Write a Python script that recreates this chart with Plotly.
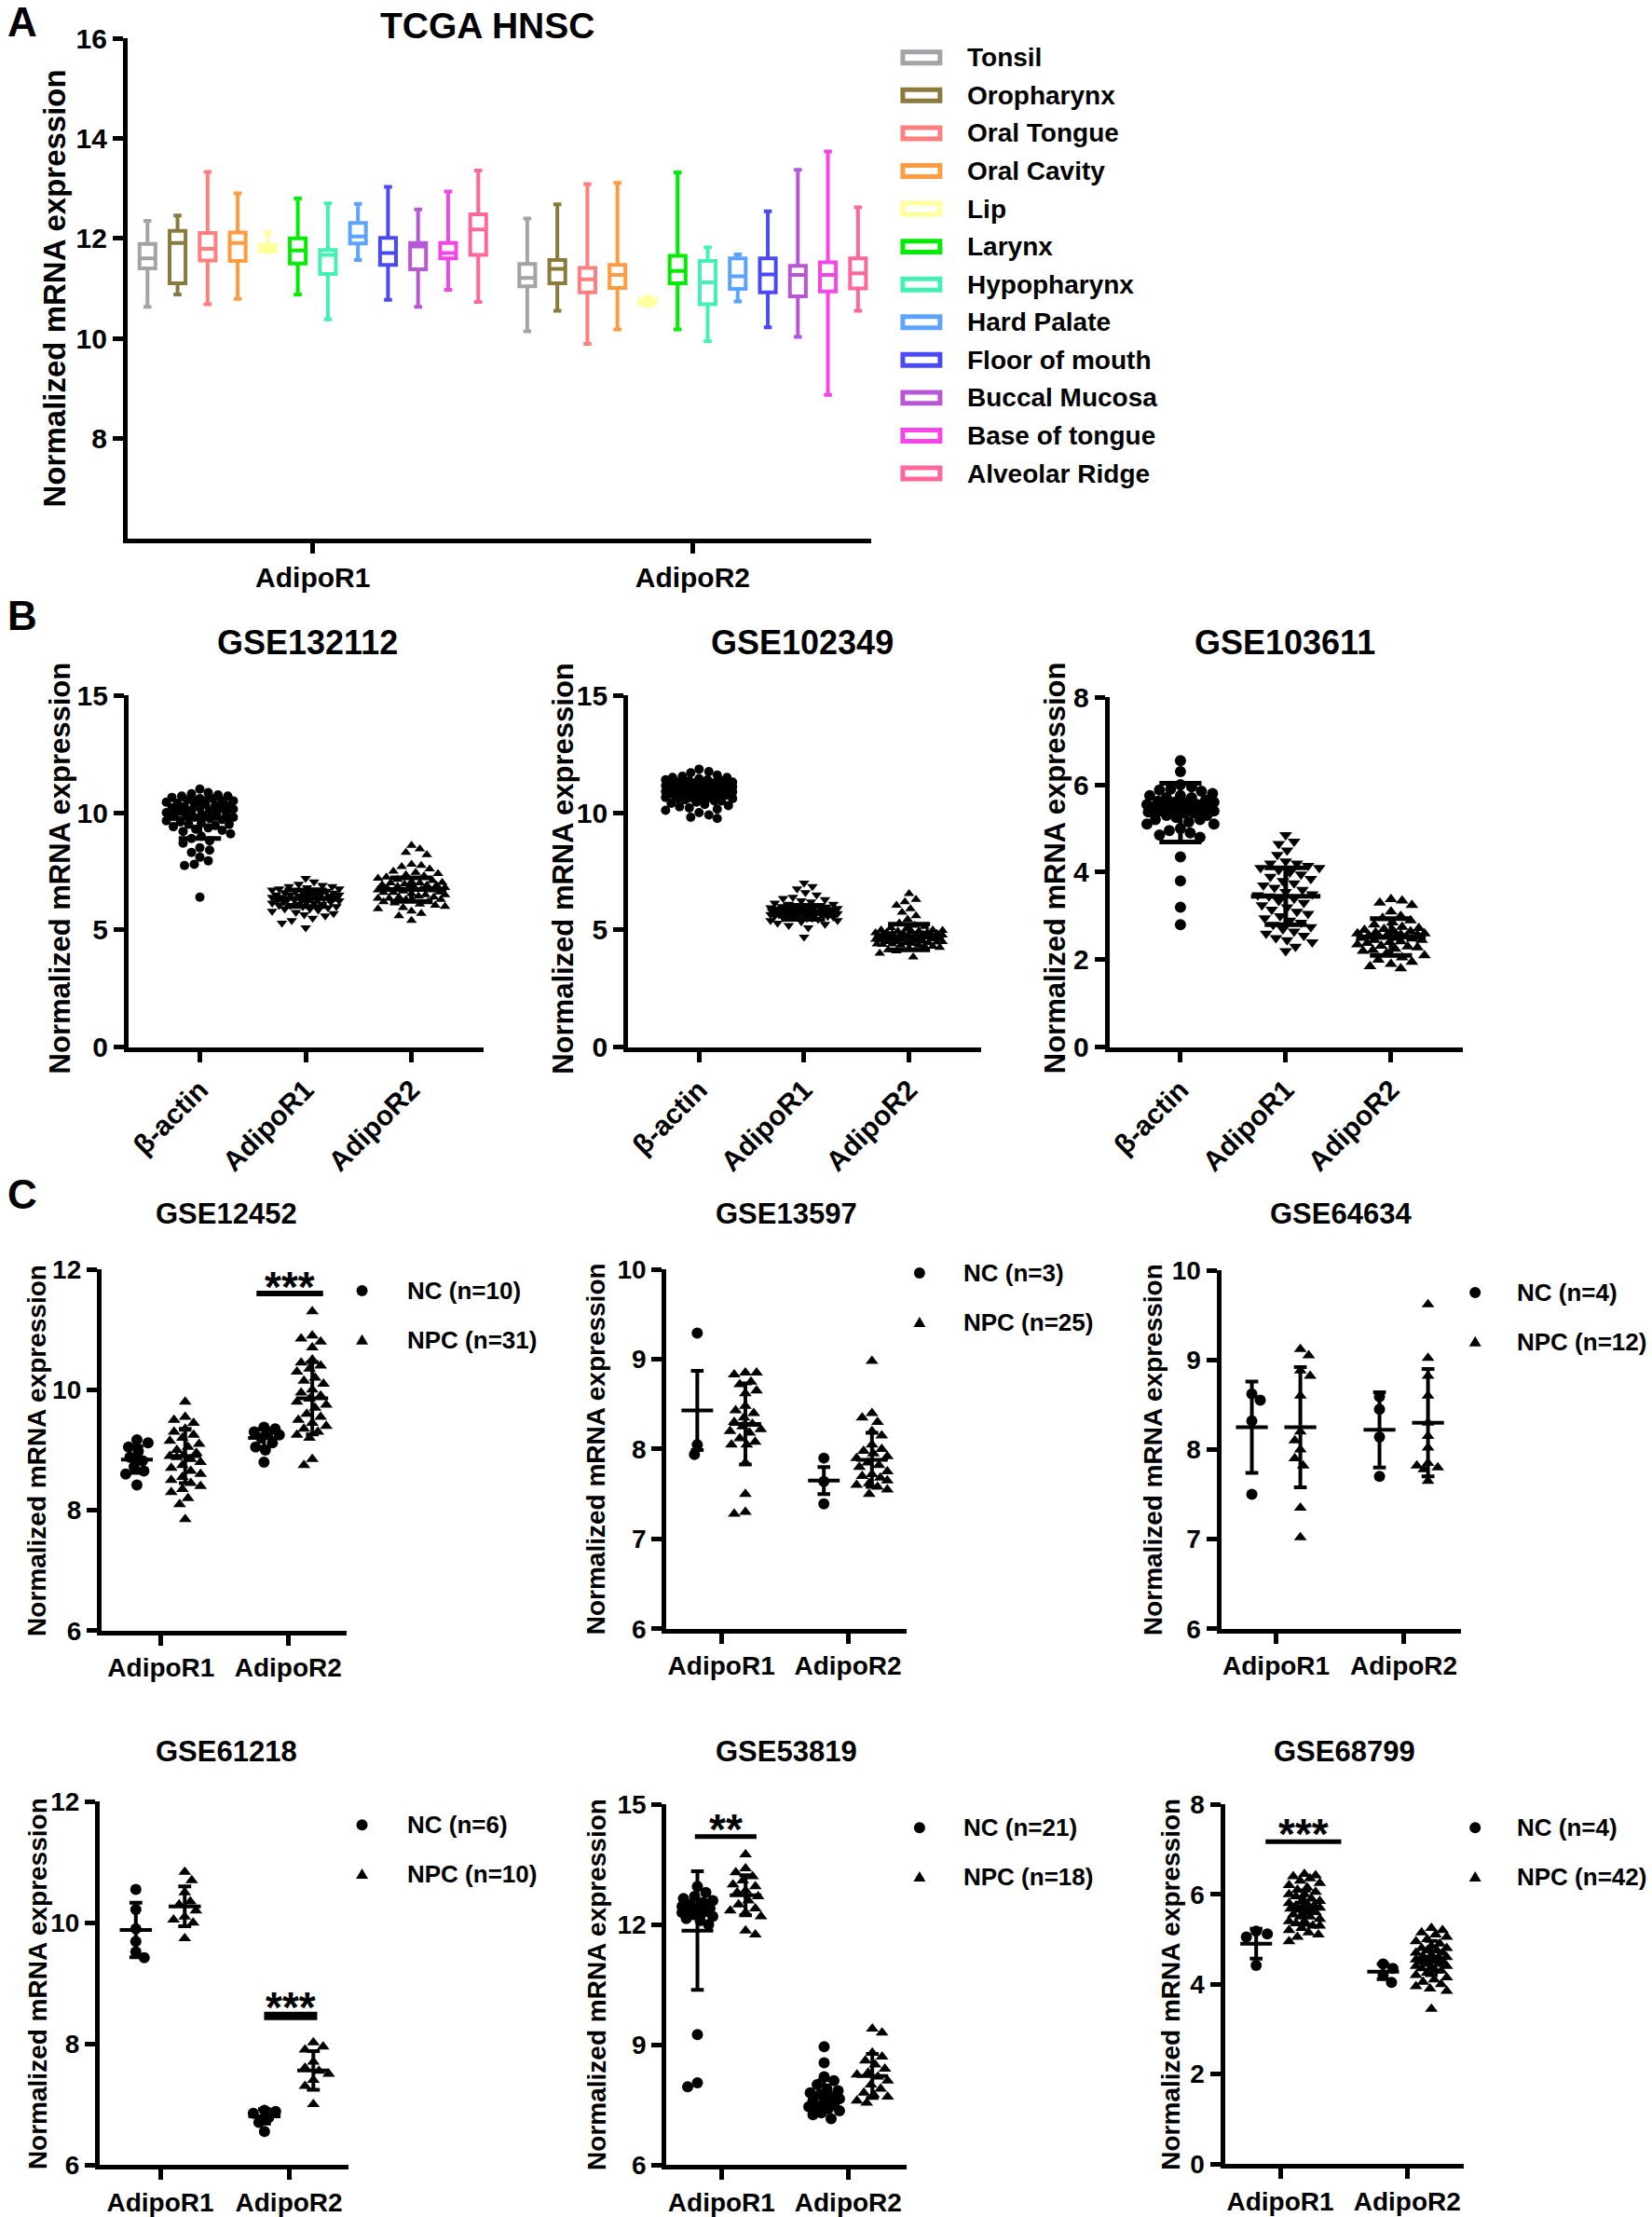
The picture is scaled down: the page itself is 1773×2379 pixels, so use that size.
import numpy as np
import plotly.graph_objects as go

W, H = 1773, 2379
FONT = "Liberation Sans, Arial, sans-serif"

# ---------------- A: TCGA HNSC (box plots) ----------------
tissues = ["Tonsil", "Oropharynx", "Oral Tongue", "Oral Cavity", "Lip", "Larynx",
           "Hypopharynx", "Hard Palate", "Floor of mouth", "Buccal Mucosa",
           "Base of tongue", "Alveolar Ridge"]
tissue_colors = ["#a3a3a8", "#8a7a3c", "#ff7f7f", "#ff9c42", "#ffff9e", "#00ec00",
                 "#44f0b4", "#5ba3ff", "#4a4af5", "#b657d6", "#f545e8", "#ff6699"]
genes_a = ["AdipoR1", "AdipoR2"]
# each row: [AdipoR1, AdipoR2]
a_low = [[10.63, 10.14], [10.88, 10.55], [10.68, 9.89], [10.79, 10.18], [11.72, 10.65], [10.88, 10.18],
         [10.38, 9.94], [11.57, 10.74], [10.77, 10.22], [10.63, 10.03], [10.97, 8.87], [10.73, 10.55]]
a_q1 = [[11.40, 11.04], [11.10, 11.10], [11.56, 10.92], [11.55, 11.01], [11.74, 10.68], [11.50, 11.10],
        [11.29, 10.68], [11.90, 10.99], [11.47, 10.92], [11.38, 10.84], [11.60, 10.94], [11.67, 11.00]]
a_med = [[11.60, 11.21], [11.91, 11.39], [11.79, 11.18], [11.91, 11.27], [11.80, 10.72], [11.76, 11.35],
         [11.67, 11.12], [12.04, 11.24], [11.71, 11.28], [11.84, 11.27], [11.71, 11.27], [12.18, 11.30]]
a_q3 = [[11.89, 11.49], [12.15, 11.57], [12.11, 11.41], [12.12, 11.47], [11.87, 10.78], [12.00, 11.65],
        [11.77, 11.55], [12.31, 11.60], [12.01, 11.60], [11.91, 11.45], [11.91, 11.52], [12.48, 11.60]]
a_high = [[12.35, 12.40], [12.46, 12.68], [13.33, 13.09], [12.90, 13.11], [12.13, 10.83], [12.80, 13.32],
          [12.70, 11.82], [12.69, 11.68], [13.03, 12.54], [12.58, 13.37], [12.94, 13.74], [13.36, 12.62]]

# ---------------- B: scatter dot plots ----------------
genes_b = ["β-actin", "AdipoR1", "AdipoR2"]
gse132112_actin = [11.0, 10.85, 10.8, 10.75, 10.7, 10.7, 10.65, 10.6, 10.6, 10.55, 10.5, 10.5, 10.45, 10.4, 10.4,
                   10.35, 10.3, 10.3, 10.25, 10.2, 10.2, 10.2, 10.15, 10.1, 10.1, 10.05, 10.0, 10.0, 9.95, 9.9,
                   9.9, 9.85, 9.8, 9.8, 9.75, 9.7, 9.65, 9.6, 9.55, 9.5, 9.5, 9.45, 9.4, 9.35, 9.3, 9.25, 9.2,
                   9.1, 9.0, 8.9, 8.8, 8.7, 8.5, 8.4, 8.3, 8.1, 7.95, 7.8, 7.75, 6.4]
gse132112_r1 = [7.2, 7.05, 6.95, 6.9, 6.85, 6.85, 6.8, 6.75, 6.75, 6.7, 6.7, 6.65, 6.65, 6.6, 6.6, 6.55, 6.55,
                6.5, 6.5, 6.5, 6.45, 6.45, 6.4, 6.4, 6.4, 6.35, 6.35, 6.3, 6.3, 6.3, 6.25, 6.25, 6.2, 6.2, 6.2,
                6.15, 6.15, 6.1, 6.1, 6.05, 6.05, 6.0, 6.0, 5.95, 5.9, 5.9, 5.85, 5.8, 5.75, 5.7, 5.65, 5.6,
                5.5, 5.4, 5.3, 5.1, 6.28, 6.38, 6.48, 6.58]
gse132112_r2 = [8.6, 8.45, 8.3, 8.2, 7.8, 7.75, 7.7, 7.6, 7.5, 7.45, 7.4, 7.35, 7.3, 7.25, 7.2, 7.15, 7.1, 7.05,
                7.0, 7.0, 6.95, 6.9, 6.9, 6.85, 6.8, 6.8, 6.75, 6.7, 6.7, 6.65, 6.6, 6.6, 6.55, 6.5, 6.5, 6.45,
                6.4, 6.4, 6.35, 6.35, 6.3, 6.3, 6.25, 6.2, 6.2, 6.15, 6.1, 6.05, 6.0, 5.95, 5.9, 5.8, 5.7, 5.6,
                5.4, 6.62, 6.72, 6.82, 6.92, 7.02]
gse132112_mean = [9.75, 6.35, 6.72]
gse132112_sd = [0.85, 0.35, 0.5]

gse102349_actin = [11.85, 11.75, 11.7, 11.6, 11.55, 11.5, 11.5, 11.45, 11.4, 11.4, 11.35, 11.35, 11.3, 11.3,
                   11.25, 11.25, 11.2, 11.2, 11.2, 11.15, 11.15, 11.1, 11.1, 11.1, 11.05, 11.05, 11.0, 11.0,
                   11.0, 10.95, 10.95, 10.9, 10.9, 10.9, 10.85, 10.85, 10.8, 10.8, 10.8, 10.75, 10.75, 10.7,
                   10.7, 10.65, 10.65, 10.6, 10.6, 10.55, 10.5, 10.5, 10.45, 10.4, 10.35, 10.3, 10.25, 10.2,
                   10.15, 10.1, 10.0, 9.9, 9.8, 9.75, 11.02, 10.98, 11.08, 10.88, 11.12, 10.92, 11.18, 10.82]
gse102349_r1 = [7.0, 6.85, 6.75, 6.6, 6.5, 6.4, 6.35, 6.3, 6.25, 6.2, 6.15, 6.1, 6.1, 6.05, 6.05, 6.0, 6.0,
                5.95, 5.95, 5.9, 5.9, 5.9, 5.85, 5.85, 5.85, 5.8, 5.8, 5.8, 5.8, 5.75, 5.75, 5.75, 5.75, 5.7,
                5.7, 5.7, 5.7, 5.65, 5.65, 5.65, 5.6, 5.6, 5.6, 5.55, 5.55, 5.5, 5.5, 5.45, 5.4, 5.4, 5.35,
                5.3, 5.25, 5.2, 5.1, 4.7, 5.82, 5.78, 5.72, 5.68, 5.88, 5.62, 5.92, 5.58, 5.98, 5.52, 5.84,
                5.76, 5.66, 5.74]
gse102349_r2 = [6.55, 6.3, 6.2, 6.05, 5.9, 5.75, 5.6, 5.45, 5.3, 5.2, 5.15, 5.1, 5.05, 5.0, 5.0, 4.95, 4.95,
                4.9, 4.9, 4.85, 4.85, 4.85, 4.8, 4.8, 4.8, 4.75, 4.75, 4.75, 4.7, 4.7, 4.7, 4.7, 4.65, 4.65,
                4.65, 4.6, 4.6, 4.6, 4.55, 4.55, 4.5, 4.5, 4.5, 4.45, 4.45, 4.4, 4.4, 4.35, 4.35, 4.3, 4.3,
                4.25, 4.2, 4.15, 4.1, 4.0, 3.85, 4.72, 4.68, 4.62, 4.58, 4.78, 4.82, 4.52, 4.88, 4.48, 4.92,
                4.42, 4.98, 4.38]
gse102349_mean = [10.95, 5.75, 4.7]
gse102349_sd = [0.4, 0.3, 0.55]

gse103611_actin = [6.55, 6.3, 6.0, 5.95, 5.9, 5.88, 5.85, 5.8, 5.75, 5.75, 5.7, 5.7, 5.65, 5.6, 5.6, 5.55, 5.55,
                   5.5, 5.5, 5.5, 5.45, 5.45, 5.4, 5.4, 5.35, 5.35, 5.3, 5.3, 5.25, 5.2, 5.2, 5.15, 5.1, 5.1,
                   5.0, 4.95, 4.9, 4.85, 4.8, 4.35, 3.8, 3.2, 2.8, 5.58, 5.48, 5.38, 5.62, 5.52]
gse103611_r1 = [4.85, 4.7, 4.65, 4.5, 4.4, 4.25, 4.2, 4.2, 4.15, 4.1, 4.1, 4.05, 4.0, 3.95, 3.9, 3.85, 3.8,
                3.75, 3.7, 3.65, 3.6, 3.55, 3.5, 3.45, 3.4, 3.35, 3.3, 3.25, 3.2, 3.15, 3.1, 3.05, 3.0, 2.95,
                2.9, 2.85, 2.8, 2.75, 2.7, 2.65, 2.6, 2.55, 2.5, 2.45, 2.4, 2.3, 2.2, 3.48]
gse103611_r2 = [3.38, 3.35, 3.3, 3.25, 3.1, 3.0, 2.95, 2.9, 2.85, 2.8, 2.75, 2.72, 2.7, 2.68, 2.65, 2.62, 2.6,
                2.58, 2.55, 2.55, 2.52, 2.5, 2.5, 2.48, 2.45, 2.42, 2.4, 2.38, 2.35, 2.32, 2.3, 2.28, 2.25,
                2.22, 2.2, 2.15, 2.1, 2.05, 2.0, 1.95, 1.9, 1.85, 1.8, 2.6, 2.65, 2.45, 2.57, 2.53]
gse103611_mean = [5.36, 3.45, 2.52]
gse103611_sd = [0.67, 0.65, 0.42]

# ---------------- C: NC vs NPC ----------------
genes_c = ["AdipoR1", "AdipoR2"]
gse12452_nc_r1 = [9.17, 9.12, 9.05, 8.98, 8.88, 8.82, 8.72, 8.65, 8.6, 8.42]
gse12452_npc_r1 = [9.8, 9.55, 9.5, 9.45, 9.35, 9.3, 9.25, 9.2, 9.15, 9.1, 9.05, 9.0, 8.95, 8.92, 8.9, 8.88,
                   8.85, 8.8, 8.75, 8.7, 8.65, 8.6, 8.55, 8.5, 8.45, 8.4, 8.35, 8.3, 8.2, 8.1, 7.85]
gse12452_nc_r2 = [9.38, 9.35, 9.3, 9.28, 9.25, 9.2, 9.12, 9.05, 9.0, 8.8]
gse12452_npc_r2 = [11.3, 10.9, 10.85, 10.8, 10.7, 10.5, 10.45, 10.4, 10.35, 10.3, 10.2, 10.15, 10.1, 10.0,
                   9.95, 9.9, 9.85, 9.8, 9.75, 9.7, 9.6, 9.55, 9.5, 9.45, 9.4, 9.35, 9.3, 9.25, 9.2, 8.85, 8.75]
gse12452_mean = [8.84, 8.9, 9.2, 9.86]
gse12452_sd = [0.22, 0.45, 0.15, 0.6]

gse13597_nc_r1 = [9.29, 8.05, 7.94]
gse13597_npc_r1 = [8.85, 8.85, 8.83, 8.75, 8.72, 8.65, 8.62, 8.48, 8.43, 8.35, 8.3, 8.28, 8.25, 8.22, 8.2,
                   8.18, 8.12, 8.08, 8.05, 8.05, 7.85, 7.5, 7.3, 7.28, 8.4]
gse13597_nc_r2 = [7.9, 7.64, 7.39]
gse13597_npc_r2 = [8.98, 8.4, 8.35, 8.3, 8.2, 8.15, 8.05, 8.0, 7.98, 7.95, 7.92, 7.9, 7.85, 7.82, 7.8, 7.75,
                   7.72, 7.7, 7.68, 7.65, 7.62, 7.6, 7.58, 7.55, 7.5]
gse13597_mean = [8.43, 8.28, 7.65, 7.88]
gse13597_sd = [0.44, 0.45, 0.15, 0.3]

gse64634_nc_r1 = [8.62, 8.55, 8.32, 7.5]
gse64634_npc_r1 = [9.12, 9.05, 8.88, 8.82, 8.6, 8.2, 8.1, 8.0, 7.9, 7.82, 7.35, 7.02]
gse64634_nc_r2 = [8.59, 8.45, 8.14, 7.7]
gse64634_npc_r2 = [9.62, 9.02, 8.82, 8.6, 8.3, 8.15, 8.02, 7.85, 7.82, 7.8, 7.78, 7.65]
gse64634_mean = [8.25, 8.25, 8.22, 8.3]
gse64634_sd = [0.51, 0.67, 0.42, 0.6]

gse61218_nc_r1 = [10.55, 10.22, 9.9, 9.69, 9.52, 9.42]
gse61218_npc_r1 = [10.84, 10.7, 10.5, 10.35, 10.3, 10.2, 10.1, 10.05, 10.0, 9.74]
gse61218_nc_r2 = [6.9, 6.88, 6.85, 6.78, 6.7, 6.55]
gse61218_npc_r2 = [8.02, 7.95, 7.9, 7.7, 7.6, 7.55, 7.5, 7.4, 7.3, 7.0]
gse61218_mean = [9.88, 10.27, 6.8, 7.56]
gse61218_sd = [0.45, 0.33, 0.12, 0.32]

gse53819_nc_r1 = [12.95, 12.8, 12.7, 12.65, 12.6, 12.55, 12.5, 12.45, 12.4, 12.4, 12.35, 12.3, 12.3, 12.25,
                  12.2, 12.15, 12.1, 12.0, 9.25, 8.05, 7.95]
gse53819_npc_r1 = [13.75, 13.4, 13.3, 13.2, 13.1, 13.0, 12.95, 12.85, 12.8, 12.7, 12.6, 12.5, 12.4, 12.35,
                   12.3, 12.2, 11.85, 11.75]
gse53819_nc_r2 = [8.95, 8.55, 8.2, 8.1, 8.0, 7.9, 7.85, 7.8, 7.75, 7.7, 7.65, 7.6, 7.55, 7.5, 7.45, 7.45, 7.4,
                  7.35, 7.3, 7.25, 7.15]
gse53819_npc_r2 = [9.4, 9.3, 8.8, 8.7, 8.6, 8.5, 8.4, 8.3, 8.25, 8.2, 8.1, 8.0, 7.9, 7.8, 7.75, 7.7, 7.6, 7.55]
gse53819_mean = [11.85, 12.73, 7.72, 8.22]
gse53819_sd = [1.48, 0.5, 0.4, 0.55]

gse68799_nc_r1 = [5.18, 5.12, 5.05, 4.42]
gse68799_npc_r1 = [6.45, 6.42, 6.4, 6.35, 6.3, 6.25, 6.2, 6.15, 6.1, 6.05, 6.0, 6.0, 5.95, 5.9, 5.85, 5.85,
                   5.8, 5.75, 5.75, 5.7, 5.7, 5.65, 5.65, 5.6, 5.6, 5.55, 5.5, 5.5, 5.45, 5.4, 5.4, 5.35, 5.3,
                   5.3, 5.25, 5.2, 5.15, 5.1, 5.05, 4.95, 5.78, 5.68]
gse68799_nc_r2 = [4.45, 4.35, 4.2, 4.04]
gse68799_npc_r2 = [5.25, 5.2, 5.15, 5.1, 5.05, 5.0, 4.95, 4.9, 4.85, 4.8, 4.8, 4.75, 4.75, 4.7, 4.7, 4.65,
                   4.6, 4.6, 4.55, 4.55, 4.5, 4.5, 4.45, 4.45, 4.4, 4.4, 4.35, 4.3, 4.3, 4.25, 4.2, 4.15, 4.1,
                   4.05, 4.0, 3.95, 3.9, 3.85, 3.45, 4.62, 4.52, 4.38]
gse68799_mean = [4.9, 5.7, 4.28, 4.58]
gse68799_sd = [0.33, 0.38, 0.17, 0.38]


# the page capture comes out a little squeezed vertically; positions below are
# target pixels and get pre-compensated here
SY0, SYK = 15.6, 0.98675


def Y(y):
    return (y - SY0) / SYK


def swarm(vals, ux, uy, diam, half):
    """GraphPad-like scatter spreading: x offsets (data units) so points overlap as little as possible."""
    vals = np.asarray(vals, float)
    order = np.argsort(-vals, kind="stable")
    steps = np.arange(0, half + 0.01, 1.5)
    px, py = [], []
    off = np.zeros(len(vals))
    for k, i in enumerate(order):
        sgn = 1 if k % 2 else -1
        cands = [0.0]
        for s in steps[1:]:
            cands += [sgn * s, -sgn * s]
        y = vals[i] * uy
        best, best_d = 0.0, -1.0
        for c in cands:
            d = np.min(np.hypot(np.array(px) - c, np.array(py) - y)) if px else np.inf
            if d >= diam:
                best = c
                break
            if d > best_d + 1e-9:
                best, best_d = c, d
        off[i] = best / ux
        px.append(best)
        py.append(y)
    return off


def err_trace(centers, means, sds, hw_mean, hw_cap, xa, ya, lw):
    xs, ys = [], []
    for c, m, s in zip(centers, means, sds):
        xs += [c - hw_mean, c + hw_mean, None, c, c, None,
               c - hw_cap, c + hw_cap, None, c - hw_cap, c + hw_cap, None]
        ys += [m, m, None, m - s, m + s, None, m + s, m + s, None, m - s, m - s, None]
    return go.Scatter(x=xs, y=ys, mode="lines", line=dict(color="black", width=lw),
                      xaxis=xa, yaxis=ya, showlegend=False, hoverinfo="skip")


fig = go.Figure()
layout = dict(width=W, height=H, margin=dict(l=0, r=0, t=0, b=0),
              paper_bgcolor="white", plot_bgcolor="white", showlegend=False,
              font=dict(family=FONT, color="black", weight="bold"),
              boxmode="group", boxgap=0.05, boxgroupgap=0.47)
annotations, shapes = [], []


def axis_pair(k, box, xr, yr, ytickvals, xtickvals, xticktext, tick_size, xtype="linear", tickangle=0):
    l, r, t, b = box
    sfx = "" if k == 1 else str(k)
    common = dict(showline=True, linewidth=5, linecolor="black", ticks="outside", ticklen=11,
                  tickwidth=5, tickcolor="black", showgrid=False, zeroline=False,
                  tickfont=dict(family=FONT, size=tick_size, color="black", weight="bold"))
    layout["xaxis" + sfx] = dict(common, domain=[l / W, r / W], range=xr, anchor="y" + sfx, type=xtype,
                                 tickangle=tickangle,
                                 **({} if xtype == "category" else dict(tickvals=xtickvals, ticktext=xticktext)))
    layout["yaxis" + sfx] = dict(common, domain=[1 - Y(b) / H, 1 - Y(t) / H], range=yr, anchor="x" + sfx,
                                 tickvals=ytickvals)
    return "x" + sfx, "y" + sfx


def text(x, y, s, size, xanchor="center", yanchor="middle", angle=0, xref="paper", yref="paper", yshift=0):
    annotations.append(dict(x=x / W if xref == "paper" else x, y=1 - Y(y) / H if yref == "paper" else y,
                            xref=xref, yref=yref, text=s, showarrow=False, xanchor=xanchor,
                            yanchor=yanchor, textangle=angle, yshift=yshift,
                            font=dict(family=FONT, size=size, color="black", weight="bold")))


# ---------------- panel A ----------------
boxA = (135, 934, 40, 578)
xa, ya = axis_pair(1, boxA, [-0.488, 1.47], [6, 16], [8, 10, 12, 14, 16], None, None, 30, xtype="category")
for i, name in enumerate(tissues):
    fig.add_trace(go.Box(x=genes_a, q1=a_q1[i], median=a_med[i], q3=a_q3[i],
                         lowerfence=a_low[i], upperfence=a_high[i], name=name, offsetgroup=str(i),
                         line=dict(color=tissue_colors[i], width=4), fillcolor="white",
                         whiskerwidth=0.5, boxpoints=False, xaxis=xa, yaxis=ya, hoverinfo="skip"))
text(522, 26, "TCGA HNSC", 39)
text(4, 22, "A", 44, xanchor="left")
text(57, 309, "Normalized mRNA expression", 33, angle=-90)
# legend
leg_y0, leg_step = 60.5, 40.7
for i, name in enumerate(tissues):
    yc = leg_y0 + i * leg_step
    shapes.append(dict(type="rect", xref="paper", yref="paper", x0=968 / W, x1=1008 / W,
                       y0=1 - Y(yc + 6) / H, y1=1 - Y(yc - 6) / H,
                       line=dict(color=tissue_colors[i], width=5), fillcolor="white"))
    text(1035, yc, name, 28, xanchor="left")

# ---------------- panel B ----------------
b_specs = [
    ("GSE132112", (136, 518, 747, 1126), [0, 15], [0, 5, 10, 15],
     [gse132112_actin, gse132112_r1, gse132112_r2], gse132112_mean, gse132112_sd, 10, (328, 690), 63),
    ("GSE102349", (673, 1052, 747, 1126), [0, 15], [0, 5, 10, 15],
     [gse102349_actin, gse102349_r1, gse102349_r2], gse102349_mean, gse102349_sd, 10, (860, 690), 603),
    ("GSE103611", (1190, 1570, 749, 1126), [0, 8], [0, 2, 4, 6, 8],
     [gse103611_actin, gse103611_r1, gse103611_r2], gse103611_mean, gse103611_sd, 12, (1379, 690), 1132),
]
b_symbols = ["circle", "triangle-down", "triangle-up"]
xr_b = [-0.675, 2.685]
for j, (title, box, yr, yt, groups, means, sds, msize, tpos, ytx) in enumerate(b_specs):
    xa, ya = axis_pair(2 + j, box, xr_b, yr, yt, [0, 1, 2], genes_b, 30, tickangle=-45)
    ux = (box[1] - box[0]) / (xr_b[1] - xr_b[0])
    uy = (box[3] - box[2]) / (yr[1] - yr[0])
    for g, vals in enumerate(groups):
        xs = g + swarm(vals, ux, uy, msize * 0.95, 36)
        fig.add_trace(go.Scatter(x=xs, y=vals, mode="markers", xaxis=xa, yaxis=ya, showlegend=False,
                                 marker=dict(symbol=b_symbols[g], size=msize, color="black",
                                             line=dict(width=0)), hoverinfo="skip"))
    fig.add_trace(err_trace([0, 1, 2], means, sds, 0.33, 0.2, xa, ya, 5))
    text(tpos[0], tpos[1], title, 36)
    text(ytx, 933, "Normalized mRNA expression", 31, angle=-90)
text(4, 661, "B", 44, xanchor="left")

# ---------------- panel C ----------------
c_specs = [
    ("GSE12452", (107, 370, 1365, 1754), [0.531, 2.457], [6, 12], [6, 8, 10, 12],
     [gse12452_nc_r1, gse12452_npc_r1, gse12452_nc_r2, gse12452_npc_r2], gse12452_mean, gse12452_sd,
     (241, 1305), 38, (387, 433, 1388)),
    ("GSE13597", (714, 972, 1365, 1752), [0.566, 2.463], [6, 10], [6, 7, 8, 9, 10],
     [gse13597_nc_r1, gse13597_npc_r1, gse13597_nc_r2, gse13597_npc_r2], gse13597_mean, gse13597_sd,
     (843, 1305), 639, (986, 1031, 1369)),
    ("GSE64634", (1310, 1568, 1366, 1752), [0.569, 2.45], [6, 10], [6, 7, 8, 9, 10],
     [gse64634_nc_r1, gse64634_npc_r1, gse64634_nc_r2, gse64634_npc_r2], gse64634_mean, gse64634_sd,
     (1439, 1305), 1237, (1583, 1626, 1390)),
    ("GSE61218", (105, 372, 1938, 2329), [0.528, 2.46], [6, 12], [6, 8, 10, 12],
     [gse61218_nc_r1, gse61218_npc_r1, gse61218_nc_r2, gse61218_npc_r2], gse61218_mean, gse61218_sd,
     (241, 1884), 38, (387, 433, 1963)),
    ("GSE53819", (714, 972, 1941, 2329), [0.565, 2.46], [6, 15], [6, 9, 12, 15],
     [gse53819_nc_r1, gse53819_npc_r1, gse53819_nc_r2, gse53819_npc_r2], gse53819_mean, gse53819_sd,
     (843, 1884), 639, (986, 1031, 1966)),
    ("GSE68799", (1314, 1571, 1941, 2328), [0.563, 2.447], [0, 8], [0, 2, 4, 6, 8],
     [gse68799_nc_r1, gse68799_npc_r1, gse68799_nc_r2, gse68799_npc_r2], gse68799_mean, gse68799_sd,
     (1443, 1884), 1256, (1583, 1626, 1966)),
]
# significance: panel index, x span, bar y, star y, label, bar width
sig_panel = [0, 3, 4, 5]
sig_x0 = [1.751, 1.807, 0.79, 0.884]
sig_x1 = [2.275, 2.22, 1.276, 1.48]
sig_bar_y = [11.6, 8.46, 14.2, 7.17]
sig_star_y = [11.9, 8.78, 14.66, 7.59]
sig_label = ["***", "***", "**", "***"]
sig_width = [6, 9, 5, 5]

c_centers = [0.81, 1.19, 1.81, 2.19]
c_symbols = ["circle", "triangle-up", "circle", "triangle-up"]
c_axes = []
for j, (title, box, xr, yr, yt, groups, means, sds, tpos, ytx, leg) in enumerate(c_specs):
    xa, ya = axis_pair(5 + j, box, xr, yr, yt, [1, 2], genes_c, 28)
    c_axes.append((xa, ya))
    ux = (box[1] - box[0]) / (xr[1] - xr[0])
    uy = (box[3] - box[2]) / (yr[1] - yr[0])
    for g, vals in enumerate(groups):
        xs = c_centers[g] + swarm(vals, ux, uy, 11, 17)
        fig.add_trace(go.Scatter(x=xs, y=vals, mode="markers", xaxis=xa, yaxis=ya, showlegend=False,
                                 marker=dict(symbol=c_symbols[g], size=12, color="black",
                                             line=dict(width=0)), hoverinfo="skip"))
    fig.add_trace(err_trace(c_centers, means, sds, 0.125, 0.05, xa, ya, 4))
    text(tpos[0], tpos[1], title, 31)
    text(ytx, (box[2] + box[3]) / 2, "Normalized mRNA expression", 28, angle=-90)
    # legend (NC / NPC)
    mx, tx, ly = leg
    shapes.append(dict(type="circle", xref="paper", yref="paper", xsizemode="pixel", ysizemode="pixel",
                       xanchor=mx / W, yanchor=1 - Y(ly) / H, x0=-6, x1=6, y0=-6, y1=6,
                       fillcolor="black", line=dict(width=0)))
    shapes.append(dict(type="path", xref="paper", yref="paper", xsizemode="pixel", ysizemode="pixel",
                       xanchor=mx / W, yanchor=1 - Y(ly + 53) / H, path="M -6.5 -5 L 6.5 -5 L 0 6 Z",
                       fillcolor="black", line=dict(width=0)))
    text(tx, ly, f"NC (n={len(groups[0])})", 26, xanchor="left")
    text(tx, ly + 53, f"NPC (n={len(groups[1])})", 26, xanchor="left")
text(4, 1284, "C", 44, xanchor="left")

for p, x0, x1, by, sy, lab, lw in zip(sig_panel, sig_x0, sig_x1, sig_bar_y, sig_star_y, sig_label, sig_width):
    xa, ya = c_axes[p]
    shapes.append(dict(type="line", xref=xa, yref=ya, x0=x0, x1=x1, y0=by, y1=by,
                       line=dict(color="black", width=lw)))
    text((x0 + x1) / 2, sy, lab, 46, xref=xa, yref=ya, yshift=-12)

layout["annotations"] = annotations
layout["shapes"] = shapes
fig.update_layout(**layout)
fig.write_html("out.html", config={"displayModeBar": False},
               post_script="document.body.style.margin='0px';")
